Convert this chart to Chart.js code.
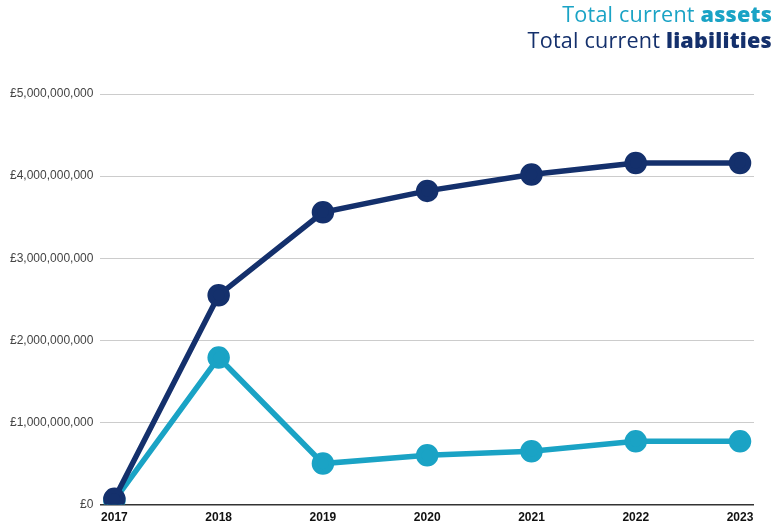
<!DOCTYPE html>
<html><head><meta charset="utf-8">
<script src="https://cdn.jsdelivr.net/npm/chart.js@4"></script>
<style>
html,body{margin:0;padding:0;background:#fff;}
#wrap{position:relative;width:774px;height:526px;}
#legend{position:absolute;right:2px;top:1px;text-align:right;font-family:"Open Sans",sans-serif;font-size:21.6px;line-height:26px;letter-spacing:0.2px;}
#legend .a{color:#1AA3C5;}
#legend .l{color:#14306C;}
#legend b{font-weight:800;}
canvas{position:absolute;left:0;top:0;}
</style></head>
<body><div id="wrap"><canvas id="c" width="774" height="526"></canvas>
<div id="legend"><div class="a">Total current <b>assets</b></div><div class="l">Total current <b>liabilities</b></div></div></div>
<script>
const years = [2017, 2018, 2019, 2020, 2021, 2022, 2023];
const assets = [0.05e9, 1.79e9, 0.50e9, 0.60e9, 0.65e9, 0.77e9, 0.77e9];
const liabilities = [0.07e9, 2.55e9, 3.56e9, 3.82e9, 4.02e9, 4.16e9, 4.16e9];
const yTicks = [0, 1e9, 2e9, 3e9, 4e9, 5e9];

const fmt = v => '£' + v.toLocaleString('en-GB');
const toPts = arr => arr.map((v, i) => ({x: years[i], y: v}));

new Chart(document.getElementById('c'), {
  type: 'line',
  data: {
    datasets: [
      {label: 'Total current liabilities', data: toPts(liabilities), borderColor: '#14306C', backgroundColor: '#14306C', borderWidth: 5.5, pointRadius: 8.5, pointHoverRadius: 8.5, tension: 0},
      {label: 'Total current assets', data: toPts(assets), borderColor: '#1AA3C5', backgroundColor: '#1AA3C5', borderWidth: 5.5, pointRadius: 8.5, pointHoverRadius: 8.5, tension: 0}
    ]
  },
  options: {
    responsive: false,
    animation: false,
    layout: {padding: {top: 94, right: 20, left: 3, bottom: 3}},
    plugins: {legend: {display: false}, tooltip: {enabled: false}},
    scales: {
      x: {
        type: 'linear',
        min: 2016.866, max: 2023.134,
        afterBuildTicks: s => { s.ticks = years.map(v => ({value: v})); },
        grid: {display: false},
        border: {display: false},
        ticks: {color: '#111', font: {family: 'Liberation Sans', size: 12, weight: 'bold'}, padding: -2, maxRotation: 0, callback: v => String(v)}
      },
      y: {
        min: 0, max: 5e9,
        afterBuildTicks: s => { s.ticks = yTicks.map(v => ({value: v})); },
        grid: {color: c => c.tick && c.tick.value === 0 ? '#333' : '#ccc', lineWidth: c => c.tick && c.tick.value === 0 ? 1.5 : 1, tickLength: 0, drawTicks: false},
        border: {display: false},
        ticks: {color: '#444', font: {family: 'Liberation Sans', size: 12}, padding: 7, callback: v => fmt(v)}
      }
    }
  }
});
</script></body></html>
